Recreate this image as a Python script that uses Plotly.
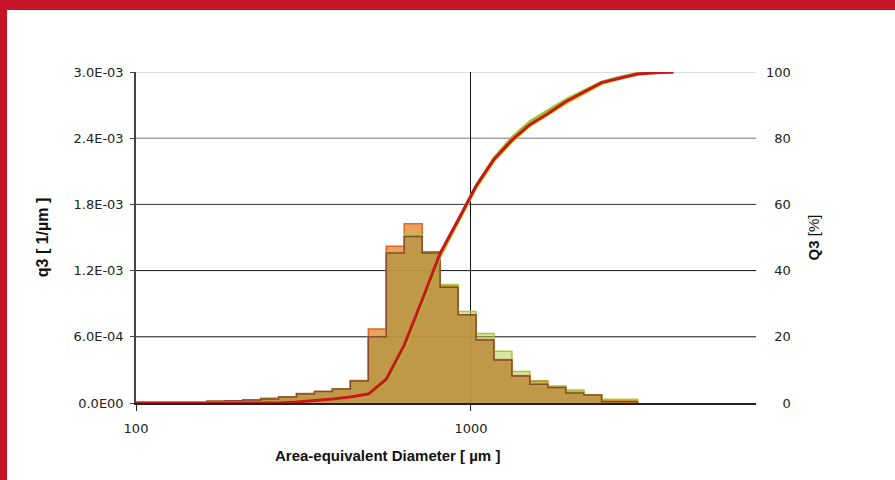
import plotly.graph_objects as go

# ---- data ----
# bin edges of the size classes (µm)
bin_edges = [99.3, 112.3, 127.1, 143.8, 162.7, 184.1, 208.2, 235.6, 266.5, 301.5,
             341.1, 385.9, 436.5, 493.9, 558.7, 632.1, 715.1, 809.0, 915.3, 1035.3,
             1171.3, 1325.1, 1499.1, 1696.0, 1918.9, 2170.8, 2455.8, 2778.3, 3143.2,
             3556.2, 4023.1]

# density distributions q3 [1/µm], one value per class (28 classes)
q3_orange = [0, 0, 0, 0, 0.015e-3, 0.020e-3, 0.028e-3, 0.040e-3, 0.057e-3, 0.085e-3,
             0.105e-3, 0.128e-3, 0.205e-3, 0.670e-3, 1.420e-3, 1.625e-3, 1.370e-3, 1.060e-3,
             0.800e-3, 0.575e-3, 0.395e-3, 0.250e-3, 0.200e-3, 0.145e-3, 0.115e-3, 0.073e-3,
             0.020e-3, 0.020e-3]
q3_green = [0, 0, 0, 0, 0.015e-3, 0.020e-3, 0.028e-3, 0.045e-3, 0.055e-3, 0.080e-3,
            0.100e-3, 0.125e-3, 0.200e-3, 0.600e-3, 1.370e-3, 1.530e-3, 1.360e-3, 1.075e-3,
            0.830e-3, 0.630e-3, 0.470e-3, 0.285e-3, 0.185e-3, 0.155e-3, 0.110e-3, 0.073e-3,
            0.035e-3, 0.035e-3]
q3_brown = [0, 0, 0, 0, 0.015e-3, 0.020e-3, 0.028e-3, 0.036e-3, 0.055e-3, 0.082e-3,
            0.105e-3, 0.127e-3, 0.200e-3, 0.600e-3, 1.360e-3, 1.510e-3, 1.360e-3, 1.050e-3,
            0.800e-3, 0.570e-3, 0.390e-3, 0.245e-3, 0.170e-3, 0.140e-3, 0.090e-3, 0.073e-3,
            0.012e-3, 0.012e-3]

# cumulative distributions Q3 [%] at the upper class edges (bin_edges)
Q3_red = [0, 0, 0, 0, 0, 0, 0, 0, 0, 0.3, 0.7, 1.2, 1.8, 2.7, 7.2, 17.5, 31.1, 45.2,
          55.3, 65.5, 73.6, 79.4, 84.1, 87.4, 91.0, 93.8, 96.8, 98.1, 99.4, 99.8, 100]
Q3_green = [0, 0, 0, 0, 0, 0, 0, 0, 0, 0.3, 0.7, 1.2, 1.8, 2.5, 6.6, 16.6, 30.0, 44.3,
            54.8, 65.6, 74.0, 80.2, 85.0, 88.3, 91.6, 94.3, 96.9, 98.4, 99.6, 99.9, 100]
Q3_yellow = [0, 0, 0, 0, 0, 0, 0, 0, 0, 0.3, 0.7, 1.2, 1.8, 2.6, 6.8, 16.9, 30.3, 44.5,
             54.7, 65.0, 73.2, 79.0, 83.8, 87.1, 90.6, 93.5, 96.5, 98.0, 99.3, 99.8, 100]

y_ticks = [0, 0.6e-3, 1.2e-3, 1.8e-3, 2.4e-3, 3.0e-3]
y_ticktext = ["0.0E00", "6.0E-04", "1.2E-03", "1.8E-03", "2.4E-03", "3.0E-03"]
y2_ticks = [0, 20, 40, 60, 80, 100]
y2_ticktext = ["\u2007\u20070", "\u200720", "\u200740", "\u200760", "\u200780", "100"]
x_ticks = [100, 1000]
x_ticktext = ["100", "1000"]

TICK_FONT = "DejaVu Sans, Verdana, sans-serif"
TITLE_FONT = "Liberation Sans, Arial, sans-serif"

def step_xy(values):
    n = len(values)
    xs = bin_edges[:n + 1] + [bin_edges[n]]
    ys = list(values) + [values[-1], 0]
    return xs, ys

fig = go.Figure()

hist_styles = [
    (q3_orange, "#E0642C", "rgba(228,140,50,0.80)"),
    (q3_green, "#A9C53B", "rgba(170,200,50,0.45)"),
    (q3_brown, "#8B4A2B", "rgba(176,126,68,0.48)"),
]
for vals, lc, fc in hist_styles:
    xs, ys = step_xy(vals)
    fig.add_trace(go.Scatter(x=xs, y=ys, mode="lines", line=dict(shape="hv", color=lc, width=1.5),
                             fill="tozeroy", fillcolor=fc, hoverinfo="skip", showlegend=False,
                             yaxis="y"))

for vals, col in [(Q3_yellow, "#F2D21A"), (Q3_green, "#9DBF2E"), (Q3_red, "#C8161E")]:
    fig.add_trace(go.Scatter(x=bin_edges, y=vals, mode="lines", line=dict(color=col, width=3),
                             showlegend=False, yaxis="y2"))

grid_colors = ["rgba(0,0,0,0)", "#111111", "#111111", "#333333", "#777777", "#BBBBBB"]
shapes = []
for yv, gc in zip(y_ticks, grid_colors):
    shapes.append(dict(type="line", xref="paper", yref="y", x0=0, x1=1, y0=yv, y1=yv,
                       line=dict(color=gc, width=1), layer="below"))
# red frame bands
RED = "#C51526"
shapes.append(dict(type="rect", xref="paper", yref="paper", x0=-0.3, x1=1.3,
                   y0=(403 - 10) / 331, y1=(403 + 5) / 331, fillcolor=RED, line=dict(width=0),
                   layer="above"))
shapes.append(dict(type="rect", xref="paper", yref="paper", x0=(0 - 10 - 136) / 620, x1=(7 - 136) / 620,
                   y0=-0.3, y1=1.3, fillcolor=RED, line=dict(width=0), layer="above"))

fig.update_layout(
    width=895, height=480,
    margin=dict(l=136, r=139, t=72, b=77),
    paper_bgcolor="white", plot_bgcolor="white",
    font=dict(family=TICK_FONT, size=13, color="#222222"),
    showlegend=False,
    shapes=shapes,
    annotations=[dict(text="<b>Area-equivalent Diameter [ µm ]</b>", xref="paper", yref="paper",
                      x=(387 - 136) / 620, y=(403 - 455) / 331, xanchor="center", yanchor="middle",
                      showarrow=False, font=dict(family=TITLE_FONT, size=15, color="#111111"))],
    xaxis=dict(type="log", range=[2, 3.851], tickvals=x_ticks, ticktext=x_ticktext,
               showgrid=True, gridcolor="#111111", gridwidth=1,
               showline=True, linecolor="#222222", linewidth=2,
               ticks="outside", ticklen=6, tickcolor="#222222", ticklabelstandoff=6,
               zeroline=False),
    yaxis=dict(range=[0, 3.0e-3], tickvals=y_ticks, ticktext=y_ticktext, showgrid=False,
               zeroline=False, showline=True, linecolor="#444444", linewidth=1.5,
               ticks="outside", ticklen=4, tickcolor="#444444", ticklabelstandoff=4,
               title=dict(text="<b>q3 [ 1/µm ]</b>", font=dict(family=TITLE_FONT, size=16, color="#111111"),
                          standoff=21)),
    yaxis2=dict(range=[0, 100], overlaying="y", side="right", tickvals=y2_ticks,
                ticktext=y2_ticktext, showgrid=False, zeroline=False, showline=False,
                ticks="", ticklabelstandoff=9,
                title=dict(text="<b>Q3</b> [%]", font=dict(family=TITLE_FONT, size=15, color="#111111"),
                           standoff=18)),
)

fig.write_html("out.html", config={"displayModeBar": False},
               post_script="document.body.style.margin='0';")
